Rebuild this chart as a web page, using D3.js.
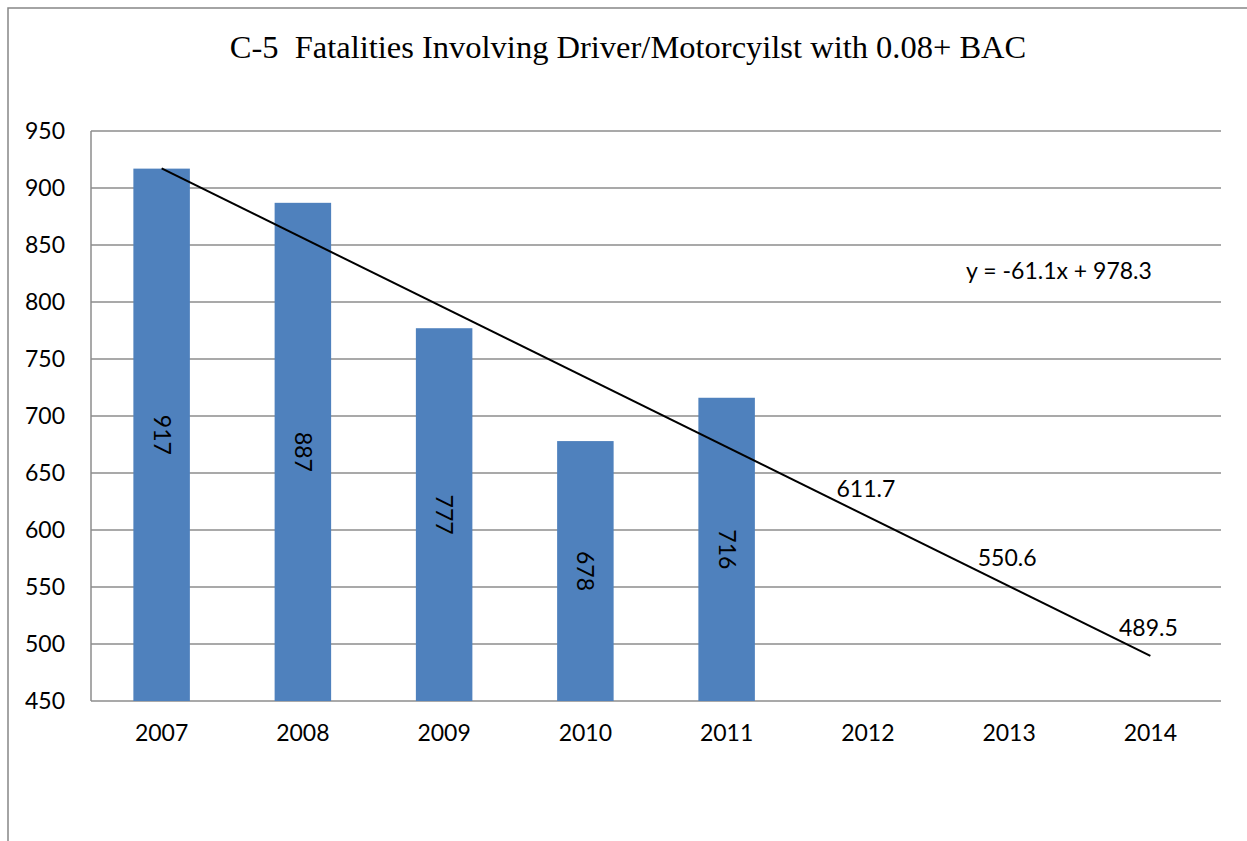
<!DOCTYPE html>
<html>
<head>
<meta charset="utf-8">
<script src="https://cdn.jsdelivr.net/npm/d3@7"></script>
<style>
  body { margin: 0; background: #fff; }
  svg { display: block; }
</style>
</head>
<body>
<svg id="chart"></svg>
<script>
// chart data
const years = ["2007", "2008", "2009", "2010", "2011", "2012", "2013", "2014"];
const fatalities = [917, 887, 777, 678, 716, null, null, null];
const yTicks = [450, 500, 550, 600, 650, 700, 750, 800, 850, 900, 950];
// linear trend, y = -61.1x + 978.3 (start / end values as shown)
const trendYears = ["2007", "2014"];
const trendValues = [917.2, 489.5];
const projYears = ["2012", "2013", "2014"];
const projValues = [611.7, 550.6, 489.5];
const equation = "y = -61.1x + 978.3";
const title = "C-5  Fatalities Involving Driver/Motorcyilst with 0.08+ BAC";

const W = 1247, H = 841;
const plot = { left: 91, top: 131, right: 1221, bottom: 701 };
const sans = "Lato, 'Open Sans', sans-serif";
const fs = "23px";

const svg = d3.select("#chart").attr("width", W).attr("height", H);

// outer chart frame (runs off the right / bottom of the page)
svg.append("rect")
  .attr("x", 8).attr("y", 8)
  .attr("width", 1300).attr("height", 900)
  .attr("fill", "none")
  .attr("stroke", "#868686")
  .attr("stroke-width", 1.5);

// title
svg.append("text")
  .attr("x", 628).attr("y", 58)
  .attr("text-anchor", "middle")
  .style("white-space", "pre")
  .style("font-family", "'Liberation Serif', 'Times New Roman', serif")
  .style("font-size", "32.5px")
  .text(title);

var x = d3.scaleBand().domain(years).range([plot.left, plot.right]).paddingInner(0.6).paddingOuter(0.3);
var xc = function (d) { return x(d) + x.bandwidth() / 2; };
var y = d3.scaleLinear().domain([450, 950]).range([plot.bottom, plot.top]);

// gridlines
svg.append("g")
  .selectAll("line")
  .data(yTicks)
  .enter()
  .append("line")
  .attr("x1", plot.left).attr("x2", plot.right)
  .attr("y1", function (d) { return y(d); })
  .attr("y2", function (d) { return y(d); })
  .attr("stroke", "#8c8c8c")
  .attr("stroke-width", 1.5);

// left axis line
svg.append("line")
  .attr("x1", plot.left).attr("x2", plot.left)
  .attr("y1", plot.top).attr("y2", plot.bottom)
  .attr("stroke", "#8c8c8c")
  .attr("stroke-width", 1.5);

// y tick labels
var yAxis = d3.axisLeft(y).tickValues(yTicks).tickSize(0).tickPadding(26);
var gy = svg.append("g").attr("transform", "translate(" + plot.left + ",0)").call(yAxis);
gy.select(".domain").remove();
gy.selectAll("text")
  .style("font-family", sans)
  .style("font-size", fs)
  .attr("fill", "#000");

// x tick labels
var xAxis = d3.axisBottom(x).tickSize(0).tickPadding(24);
var gx = svg.append("g").attr("transform", "translate(0," + plot.bottom + ")").call(xAxis);
gx.select(".domain").remove();
gx.selectAll("text")
  .style("font-family", sans)
  .style("font-size", fs)
  .attr("fill", "#000");

// bars
var barData = years.map(function (d, i) { return { year: d, value: fatalities[i] }; })
  .filter(function (d) { return d.value != null; });

svg.append("g")
  .selectAll("rect")
  .data(barData)
  .enter()
  .append("rect")
  .attr("x", function (d) { return x(d.year); })
  .attr("y", function (d) { return y(d.value); })
  .attr("width", x.bandwidth())
  .attr("height", function (d) { return y(450) - y(d.value); })
  .attr("fill", "#4f81bd");

// rotated value labels inside bars
svg.append("g")
  .selectAll("text")
  .data(barData)
  .enter()
  .append("text")
  .attr("transform", function (d) {
    var cy = (y(d.value) + y(450)) / 2;
    return "translate(" + xc(d.year) + "," + cy + ") rotate(90)";
  })
  .attr("text-anchor", "middle")
  .attr("dy", "0.35em")
  .style("font-family", sans)
  .style("font-size", fs)
  .text(function (d) { return d.value; });

// trend line
var line = d3.line()
  .x(function (d) { return xc(d.year); })
  .y(function (d) { return y(d.value); });
svg.append("path")
  .datum(trendYears.map(function (d, i) { return { year: d, value: trendValues[i] }; }))
  .attr("d", line)
  .attr("fill", "none")
  .attr("stroke", "#000")
  .attr("stroke-width", 2);

// projected trend value labels
svg.append("g")
  .selectAll("text")
  .data(projYears.map(function (d, i) { return { year: d, value: projValues[i] }; }))
  .enter()
  .append("text")
  .attr("x", function (d) { return xc(d.year) - 2; })
  .attr("y", function (d) { return y(d.value) - 20; })
  .attr("text-anchor", "middle")
  .style("font-family", sans)
  .style("font-size", fs)
  .text(function (d) { return d.value.toFixed(1); });

// trend equation
svg.append("text")
  .attr("x", 1059).attr("y", 279)
  .attr("text-anchor", "middle")
  .style("font-family", sans)
  .style("font-size", fs)
  .text(equation);
</script>
</body>
</html>
